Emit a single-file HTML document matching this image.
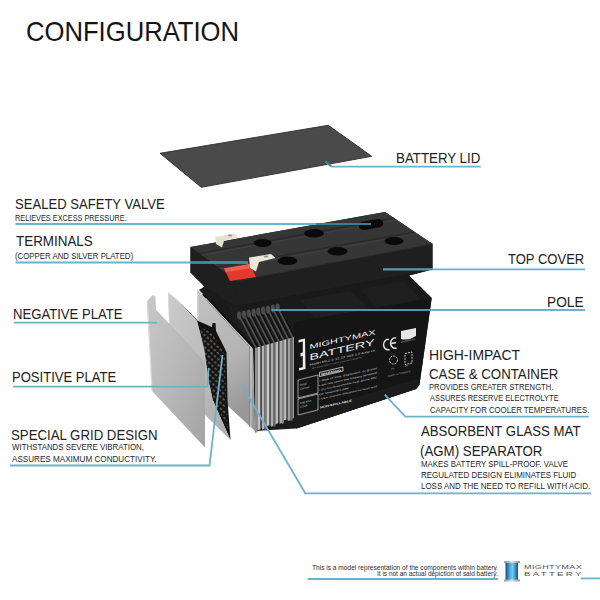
<!DOCTYPE html>
<html><head><meta charset="utf-8">
<style>
html,body{margin:0;padding:0;background:#fff;}
body{width:600px;height:600px;position:relative;overflow:hidden;font-family:"Liberation Sans",sans-serif;}
.t{position:absolute;white-space:nowrap;line-height:1;transform-origin:0 0;}
svg{position:absolute;left:0;top:0;}
</style></head><body>
<svg width="600" height="600" viewBox="0 0 600 600">
<defs>
 <linearGradient id="p1G" x1="0" y1="0" x2="1" y2="1">
  <stop offset="0" stop-color="#c8c8c8"/><stop offset="0.5" stop-color="#b8b8b8"/><stop offset="1" stop-color="#a3a3a3"/>
 </linearGradient>
 <linearGradient id="p2G" x1="0" y1="0" x2="1" y2="1">
  <stop offset="0" stop-color="#cbcbcb"/><stop offset="1" stop-color="#adadad"/>
 </linearGradient>
 <linearGradient id="p3G" x1="0" y1="0" x2="0.3" y2="1">
  <stop offset="0" stop-color="#c2c2c2"/><stop offset="0.6" stop-color="#b4b4b4"/><stop offset="1" stop-color="#989898"/>
 </linearGradient>
 <linearGradient id="battIcon" x1="0" y1="0" x2="1" y2="0">
  <stop offset="0" stop-color="#174c7a"/><stop offset="0.3" stop-color="#3f9fd6"/><stop offset="0.55" stop-color="#74cdf2"/><stop offset="0.8" stop-color="#3a8fc8"/><stop offset="1" stop-color="#164a78"/>
 </linearGradient>
 <linearGradient id="capG" x1="0" y1="0" x2="1" y2="0">
  <stop offset="0" stop-color="#8a8a8a"/><stop offset="0.5" stop-color="#e0e0e0"/><stop offset="1" stop-color="#8a8a8a"/>
 </linearGradient>
 <pattern id="holes" width="4.4" height="4.4" patternUnits="userSpaceOnUse" patternTransform="rotate(42)">
  <rect width="4.4" height="4.4" fill="#141414"/>
  <rect x="1" y="1.3" width="2.4" height="1.6" fill="#6b6560"/>
 </pattern>
 <clipPath id="topClip"><polygon points="190.5,247 385,212 432.5,244 236,281"/></clipPath>
</defs>
<!-- battery lid -->
<polygon points="160,153.3 328.3,125.3 371.7,156.3 201.3,187.3" fill="#4a4a4a" stroke="#383838" stroke-width="1"/>

<!-- battery body silhouette -->
<polygon points="190.5,247 385,212 432.5,244 432.5,269.5 409,275.5 431.7,298 422.3,365 419.3,385 416,389 296,428.5 255,431 253,348 206,297 199,290 204.5,286.5 190.5,272.5" fill="#1b1b1b"/>
<!-- top surface of cover -->
<polygon points="190.5,247 385,212 432.5,244 236,281" fill="#363636"/>
<g clip-path="url(#topClip)">
 <path d="M196,254 L400,217" stroke="#2a2a2a" stroke-width="1.4"/>
 <path d="M197,256 L401,219" stroke="#444" stroke-width="0.8"/>
 <path d="M213,268 L420,231" stroke="#2a2a2a" stroke-width="1.4"/>
 <path d="M214,270 L421,233" stroke="#444" stroke-width="0.8"/>
 <path d="M385,212 L432.5,244" stroke="#3e3e3e" stroke-width="1.5"/>
</g>
<!-- left face of cover -->
<polygon points="190.5,247 236,281 238,307.5 204.5,286.5 190.5,272.5" fill="#1f1f1f"/>
<!-- front face of cover -->
<polygon points="236,281 432.5,244 432.5,269.5 237,306" fill="#1f1f1f"/>
<path d="M236,281 L432.5,244" stroke="#2c2c2c" stroke-width="1"/>
<!-- holes -->
<ellipse cx="314" cy="233.3" rx="10" ry="4.3" fill="#0a0a0a"/>
<ellipse cx="337.5" cy="251.3" rx="10" ry="4.3" fill="#0a0a0a"/>
<ellipse cx="287.5" cy="260.8" rx="10" ry="4.3" fill="#0a0a0a"/>
<path d="M364,221.5 L378,219 A5,4 0 0 1 378,227.5 L364,230 A5,4 0 0 1 364,221.5 Z" fill="#0a0a0a"/>
<ellipse cx="262.7" cy="243" rx="9" ry="4" fill="#0a0a0a"/>
<ellipse cx="394" cy="241" rx="9.5" ry="4" fill="#0a0a0a"/>
<!-- red terminal block -->
<polygon points="224,268.5 250,264 256,277 230,281" fill="#e5392c"/>
<polygon points="224,268.5 250,264 252,268 226,272" fill="#f2604c"/>
<!-- terminals -->
<path d="M215,237 L234,233.5 L238.5,237 L224,241 L222,247.5 L216,244 Z" fill="#e6e0d0"/>
<path d="M249,257.5 L271,254 L275.5,258 L259,262 L256,271.5 L250,268 Z" fill="#ece6d8"/>
<ellipse cx="266" cy="256.5" rx="2.5" ry="1" fill="#9a9485"/>
<ellipse cx="230" cy="235.5" rx="2.2" ry="0.9" fill="#9a9485"/>

<!-- case top area shading -->
<polygon points="237,306 432.5,269.5 409,275.5 431.7,298 294,334 255,318" fill="#1a1a1a"/>
<polygon points="300,300 350,291 372,312 318,322" fill="#1f1f1f"/>
<polygon points="360,289 405,281 420,300 378,309" fill="#1e1e1e"/>

<!-- cells stack -->
<polygon points="226,303 294,334 294,420 255,431 253,348" fill="#1e1e1e"/>
<path d="M238.0,313.0 L256.0,348.0" stroke="#505050" stroke-width="1.8"/>
<path d="M240.2,314.0 L258.0,348.0" stroke="#0f0f0f" stroke-width="1.1"/>
<ellipse cx="239.2" cy="315.5" rx="2.1" ry="4" fill="#4c4c4c"/>
<path d="M242.8,312.0 L260.6,346.7" stroke="#505050" stroke-width="1.8"/>
<path d="M245.0,313.0 L262.6,346.7" stroke="#0f0f0f" stroke-width="1.1"/>
<ellipse cx="244.0" cy="314.5" rx="2.1" ry="4" fill="#4c4c4c"/>
<path d="M247.6,311.0 L265.2,345.4" stroke="#505050" stroke-width="1.8"/>
<path d="M249.8,312.0 L267.2,345.4" stroke="#0f0f0f" stroke-width="1.1"/>
<ellipse cx="248.8" cy="313.5" rx="2.1" ry="4" fill="#4c4c4c"/>
<path d="M252.4,310.0 L269.8,344.1" stroke="#505050" stroke-width="1.8"/>
<path d="M254.6,311.0 L271.8,344.1" stroke="#0f0f0f" stroke-width="1.1"/>
<ellipse cx="253.6" cy="312.5" rx="2.1" ry="4" fill="#4c4c4c"/>
<path d="M257.2,309.0 L274.4,342.8" stroke="#505050" stroke-width="1.8"/>
<path d="M259.4,310.0 L276.4,342.8" stroke="#0f0f0f" stroke-width="1.1"/>
<ellipse cx="258.4" cy="311.5" rx="2.1" ry="4" fill="#4c4c4c"/>
<path d="M262.0,308.0 L279.0,341.5" stroke="#505050" stroke-width="1.8"/>
<path d="M264.2,309.0 L281.0,341.5" stroke="#0f0f0f" stroke-width="1.1"/>
<ellipse cx="263.2" cy="310.5" rx="2.1" ry="4" fill="#4c4c4c"/>
<path d="M266.8,307.0 L283.6,340.2" stroke="#505050" stroke-width="1.8"/>
<path d="M269.0,308.0 L285.6,340.2" stroke="#0f0f0f" stroke-width="1.1"/>
<ellipse cx="268.0" cy="309.5" rx="2.1" ry="4" fill="#4c4c4c"/>
<path d="M271.6,306.0 L288.2,338.9" stroke="#505050" stroke-width="1.8"/>
<path d="M273.8,307.0 L290.2,338.9" stroke="#0f0f0f" stroke-width="1.1"/>
<ellipse cx="272.8" cy="308.5" rx="2.1" ry="4" fill="#4c4c4c"/>
<path d="M276.4,305.0 L292.8,337.6" stroke="#505050" stroke-width="1.8"/>
<path d="M278.6,306.0 L294.8,337.6" stroke="#0f0f0f" stroke-width="1.1"/>
<ellipse cx="277.6" cy="307.5" rx="2.1" ry="4" fill="#4c4c4c"/>
<polygon points="255.0,348.0 257.5,347.3 257.5,432.2 255.0,433.0" fill="#8e8e8e"/>
<polygon points="257.5,347.3 260.5,346.4 260.5,429.2 257.5,430.2" fill="#c4c4c4"/>
<polygon points="260.5,346.4 262.0,346.0 262.0,427.7 260.5,428.2" fill="#4e4e4e"/>
<polygon points="262.0,346.0 264.5,345.3 264.5,428.8 262.0,429.7" fill="#b4b4b4"/>
<polygon points="264.5,345.3 266.5,344.8 266.5,429.2 264.5,429.8" fill="#7a7a7a"/>
<polygon points="266.5,344.8 269.5,343.9 269.5,425.2 266.5,426.2" fill="#cacaca"/>
<polygon points="269.5,343.9 271.0,343.5 271.0,425.7 269.5,426.2" fill="#5a5a5a"/>
<polygon points="271.0,343.5 273.5,342.8 273.5,425.8 271.0,426.7" fill="#aeaeae"/>
<polygon points="273.5,342.8 275.5,342.2 275.5,426.2 273.5,426.8" fill="#6e6e6e"/>
<polygon points="275.5,342.2 278.0,341.5 278.0,423.3 275.5,424.2" fill="#bdbdbd"/>
<polygon points="278.0,341.5 279.5,341.1 279.5,421.8 278.0,422.3" fill="#4a4a4a"/>
<polygon points="279.5,341.1 282.0,340.4 282.0,423.0 279.5,423.8" fill="#a8a8a8"/>
<polygon points="282.0,340.4 284.0,339.8 284.0,423.3 282.0,424.0" fill="#808080"/>
<polygon points="284.0,339.8 286.5,339.1 286.5,419.5 284.0,420.3" fill="#b8b8b8"/>
<polygon points="286.5,339.1 288.0,338.7 288.0,420.0 286.5,420.5" fill="#555"/>
<polygon points="288.0,338.7 290.5,338.0 290.5,420.2 288.0,421.0" fill="#a0a0a0"/>
<polygon points="290.5,338.0 292.5,337.4 292.5,420.5 290.5,421.2" fill="#6a6a6a"/>
<polygon points="292.5,337.4 294.0,337.0 294.0,418.0 292.5,418.5" fill="#9a9a9a"/><!-- label front face -->
<polygon points="294,322 431.7,298 422.3,365 419.3,385 416,389 296.5,428.5 294,424" fill="#151515"/>
<polygon points="294,416 420.5,378 419.3,385 416,389 296.5,428.5 294,424" fill="#1c1c1c"/>
<!-- label graphics -->
<g fill="#f0f0f0" font-family="Liberation Sans">
 <path d="M298.5,340 L305,338.5 L305.5,369 L299,370.5 L299,368 L302.8,367.2 L302.8,356 L300.5,356.5 L300.5,353 L302.8,352.5 L302.8,341.5 L298.5,342.4 Z"/>
 <text transform="translate(309.5,349.3) skewY(-12.8) scale(1,1.25)" font-size="5.6" textLength="66" lengthAdjust="spacingAndGlyphs">MIGHTYMAX</text>
 <text transform="translate(309.5,360.5) skewY(-13.5) scale(1,1.2)" font-size="7.4" textLength="65" lengthAdjust="spacingAndGlyphs">BATTERY</text>
 <text transform="translate(309.5,365.8) skewY(-12.5)" font-size="2.8" textLength="66" lengthAdjust="spacingAndGlyphs" fill="#d0d0d0">Model ML1.2-12   12 Volt 1.2 Amp Hr</text>
 <text transform="translate(312,369) skewY(-12.5)" font-size="2.2" textLength="50" lengthAdjust="spacingAndGlyphs" fill="#9a9a9a">Rechargeable Sealed Lead Acid Battery</text>
 <path d="M319.5,372.5 L343,367 L343,371 L319.5,376.5 Z" fill="none" stroke="#e0e0e0" stroke-width="0.8"/>
 <text transform="translate(321,375.5) skewY(-12.5)" font-size="2.8" textLength="20" lengthAdjust="spacingAndGlyphs" font-weight="bold">WARNING</text>
 <text transform="translate(319,382) skewY(-12.5)" font-size="2.6" textLength="58" lengthAdjust="spacingAndGlyphs" fill="#d4d4d4">• Risk of Fire, Explosion, or Burns</text>
 <text transform="translate(319,386.5) skewY(-12.5)" font-size="2.6" textLength="58" lengthAdjust="spacingAndGlyphs" fill="#d4d4d4">• Do not short the battery terminal</text>
 <text transform="translate(319,391) skewY(-12.5)" font-size="2.6" textLength="58" lengthAdjust="spacingAndGlyphs" fill="#d4d4d4">• Do not disassemble heat above 60C</text>
 <text transform="translate(319,395.5) skewY(-12.5)" font-size="2.6" textLength="30" lengthAdjust="spacingAndGlyphs" fill="#d4d4d4">or incinerate</text>
 <text transform="translate(319,400) skewY(-12.5)" font-size="2.6" textLength="58" lengthAdjust="spacingAndGlyphs" fill="#d4d4d4">• Use charger designed for lead acid</text>
 <text transform="translate(320,408.5) skewY(-12.5)" font-size="2.8" textLength="32" lengthAdjust="spacingAndGlyphs" fill="#e6e6e6" font-weight="bold">NON-SPILLABLE</text>
 <path d="M298,380 L318,375 L318,393 L298,398 Z M298,399 L318,394 L318,410 L298,415 Z" fill="none" stroke="#d0d0d0" stroke-width="0.7"/>
 <text transform="translate(300,386) skewY(-12.5)" font-size="2.8" fill="#d0d0d0">Initial</text>
 <text transform="translate(300,390) skewY(-12.5)" font-size="2.8" fill="#d0d0d0">Current</text>
 <text transform="translate(300,404) skewY(-12.5)" font-size="2.8" fill="#d0d0d0">less than</text>
 <text transform="translate(300,408) skewY(-12.5)" font-size="2.8" fill="#d0d0d0">0.36A</text>
 <path d="M389,339.5 A4.5,5.2 0 1 0 389.5,349.5" fill="none" stroke="#eaeaea" stroke-width="1.4"/>
 <path d="M396,338 A4.5,5.2 0 1 0 396.5,348 M391.5,343.5 L396,342.5" fill="none" stroke="#eaeaea" stroke-width="1.4"/>
 <path d="M401,331 L416,328 L416,336 Q408.5,341 401,339 Z" fill="#e6e6e6"/>
 <text transform="translate(401,343) skewY(-12.5)" font-size="2.2" fill="#bbb" textLength="14" lengthAdjust="spacingAndGlyphs">MH28465 AH</text>
 <circle cx="393.5" cy="360" r="4" fill="none" stroke="#d0d0d0" stroke-width="0.9" stroke-dasharray="2,1"/>
 <path d="M405,353.5 L412,352 L412,363 L405,364.5 Z" fill="none" stroke="#d0d0d0" stroke-width="0.9" stroke-dasharray="2,1"/>
 <text transform="translate(391,370) skewY(-12.5)" font-size="2.6" fill="#bbb">Pb</text>
 <text transform="translate(405,367) skewY(-12.5)" font-size="2.6" fill="#bbb">Pb</text>
 <text transform="translate(388,377) skewY(-12.5)" font-size="2.4" fill="#aaa" textLength="22" lengthAdjust="spacingAndGlyphs">Made in Thailand</text>
</g>

<!-- plate 3 (attached) -->
<polygon points="197,289 253,348 255,431 230,408 198,376" fill="url(#p3G)"/>
<path d="M203,294 L254,348" stroke="#0e0e0e" stroke-width="2.2"/>
<path d="M205.5,298 L251,347.5 L251,428" fill="none" stroke="#d8d8d8" stroke-width="0.9"/>
<path d="M207,300.5 L249.5,347 L249.5,427" fill="none" stroke="#7a7a7a" stroke-width="0.7"/>
<path d="M197.5,289 L198.5,376" stroke="#d8d8d8" stroke-width="1.2"/>

<!-- grid plate (black) -->
<polygon points="174,296.5 198,321 212,327 212.5,323 215.5,323 216,331 226.5,352 227.5,400 230.5,440 212.7,400 208.5,380 204.5,350 197,321" fill="#121212"/>
<polygon points="200,327 212,333 225,355 225.8,400 228,430 213,398 207.5,375 203.5,348" fill="url(#holes)"/>
<!-- plate 2 -->
<polygon points="168,292.5 174,297 197,321 204.5,350 208.5,380 212.7,400 230.5,440 205,415 172,381" fill="url(#p2G)"/>
<path d="M168.5,292.5 L171,381" stroke="#d6d6d6" stroke-width="1"/>
<!-- plate 1 -->
<polygon points="147,301.2 152.5,295 155.5,296.5 156,310 205,362 205,447.5 152,391" fill="url(#p1G)"/>
<path d="M147.3,301.5 L152,391" stroke="#dcdcdc" stroke-width="1.2"/>
<path d="M156,310.5 L205,362.5" stroke="#b5b5b5" stroke-width="0.8"/>

<!-- leader lines -->
<g fill="none" stroke="#6cb2cb" stroke-width="1.8">
 <path d="M325.8,161.7 L331.7,166.7 L480.8,166.7"/>
 <path d="M15.5,224 L371,224"/>
 <path d="M15.5,262.5 L248,262.5"/>
 <path d="M383,269.3 L585,269.3"/>
 <path d="M271.7,310 L585,310"/>
 <path d="M14,322.6 L157,322.6"/>
 <path d="M13,386.7 L207.4,386.7 L208.6,368"/>
 <path d="M10,465.5 L209.5,465.5 L222.5,355"/>
 <path d="M384.7,394.7 L405.3,416.7 L588.7,416.7"/>
 <path d="M241.7,385 L305.3,493.3 L591,493.3"/>
 <path d="M307.6,579 L498,579"/>
 <path d="M580.8,578.4 L600,578.4"/>
</g>
<g fill="none" stroke-width="1.8">
 <path d="M316,224 L371,224" stroke="#3a7c92"/>
 <path d="M190.5,262.5 L248,262.5" stroke="#4a8ca2"/>
 <path d="M383,269.3 L432.5,269.3" stroke="#5497ad"/>
 <path d="M271.7,310 L430.5,310" stroke="#5497ad"/>
 <path d="M325.8,161.7 L331,166" stroke="#3f7f94"/>
</g>
<!-- footer battery icon -->
<rect x="505.5" y="562" width="12.5" height="18" fill="url(#battIcon)"/>
<rect x="504" y="561" width="16" height="2" rx="0.8" fill="url(#capG)"/>
<rect x="504" y="579.5" width="16" height="2" rx="0.8" fill="url(#capG)"/>
</svg>
<div class="t" style="left:26.22px;top:17.52px;font-size:27.89px;transform:scaleX(0.9193);color:#141414">CONFIGURATION</div>
<div class="t" style="left:395.93px;top:150.82px;font-size:14.51px;transform:scaleX(0.9180);color:#222">BATTERY LID</div>
<div class="t" style="left:14.75px;top:197.42px;font-size:14.51px;transform:scaleX(0.9017);color:#222">SEALED SAFETY VALVE</div>
<div class="t" style="left:14.81px;top:212.88px;font-size:9.44px;transform:scaleX(0.7757);color:#282828">RELIEVES EXCESS PRESSURE.</div>
<div class="t" style="left:15.53px;top:233.72px;font-size:14.51px;transform:scaleX(0.9244);color:#222">TERMINALS</div>
<div class="t" style="left:14.93px;top:250.78px;font-size:9.44px;transform:scaleX(0.8316);color:#282828">(COPPER AND SILVER PLATED)</div>
<div class="t" style="left:508.44px;top:252.32px;font-size:14.51px;transform:scaleX(0.8980);color:#222">TOP COVER</div>
<div class="t" style="left:546.90px;top:295.22px;font-size:14.51px;transform:scaleX(0.9444);color:#222">POLE</div>
<div class="t" style="left:13.25px;top:307.32px;font-size:14.51px;transform:scaleX(0.9046);color:#222">NEGATIVE PLATE</div>
<div class="t" style="left:11.95px;top:370.42px;font-size:14.51px;transform:scaleX(0.9007);color:#222">POSITIVE PLATE</div>
<div class="t" style="left:428.88px;top:348.22px;font-size:14.51px;transform:scaleX(0.9616);color:#222">HIGH-IMPACT</div>
<div class="t" style="left:429.34px;top:366.92px;font-size:14.51px;transform:scaleX(0.9134);color:#222">CASE &amp; CONTAINER</div>
<div class="t" style="left:429.39px;top:382.73px;font-size:9.15px;transform:scaleX(0.8384);color:#282828">PROVIDES GREATER STRENGTH.</div>
<div class="t" style="left:430.00px;top:394.23px;font-size:9.15px;transform:scaleX(0.8173);color:#282828">ASSURES RESERVE ELECTROLYTE</div>
<div class="t" style="left:429.61px;top:405.53px;font-size:9.15px;transform:scaleX(0.8523);color:#282828">CAPACITY FOR COOLER TEMPERATURES.</div>
<div class="t" style="left:11.04px;top:427.62px;font-size:14.51px;transform:scaleX(0.9128);color:#222">SPECIAL GRID DESIGN</div>
<div class="t" style="left:11.62px;top:443.23px;font-size:9.15px;transform:scaleX(0.8639);color:#282828">WITHSTANDS SEVERE VIBRATION,</div>
<div class="t" style="left:11.70px;top:454.73px;font-size:9.15px;transform:scaleX(0.8890);color:#282828">ASSURES MAXIMUM CONDUCTIVITY.</div>
<div class="t" style="left:421.20px;top:423.82px;font-size:14.51px;transform:scaleX(0.9105);color:#222">ABSORBENT GLASS MAT</div>
<div class="t" style="left:420.40px;top:444.02px;font-size:14.51px;transform:scaleX(0.9156);color:#222">(AGM) SEPARATOR</div>
<div class="t" style="left:420.57px;top:460.03px;font-size:9.15px;transform:scaleX(0.8617);color:#282828">MAKES BATTERY SPILL-PROOF. VALVE</div>
<div class="t" style="left:420.56px;top:471.03px;font-size:9.15px;transform:scaleX(0.8743);color:#282828">REGULATED DESIGN ELIMINATES FLUID</div>
<div class="t" style="left:420.56px;top:482.03px;font-size:9.15px;transform:scaleX(0.8700);color:#282828">LOSS AND THE NEED TO REFILL WITH ACID.</div><div class="t" style="left:311.9px;top:564.6px;font-size:6.8px;color:#2e2e2e;transform:scaleX(0.969)">This is a model representation of the components within battery.</div>
<div class="t" style="left:376.6px;top:570.6px;font-size:6.8px;color:#2e2e2e;transform:scaleX(0.955)">It is not an actual depiction of said battery.</div>
<div class="t" style="left:523.5px;top:564.7px;font-size:5.9px;color:#555;transform:scaleX(1.55);letter-spacing:0.2px">MIGHTYMAX</div>
<div class="t" style="left:523.5px;top:570.6px;font-size:6.2px;color:#555;transform:scaleX(1.55);letter-spacing:1.5px">BATTERY</div>
</body></html>
